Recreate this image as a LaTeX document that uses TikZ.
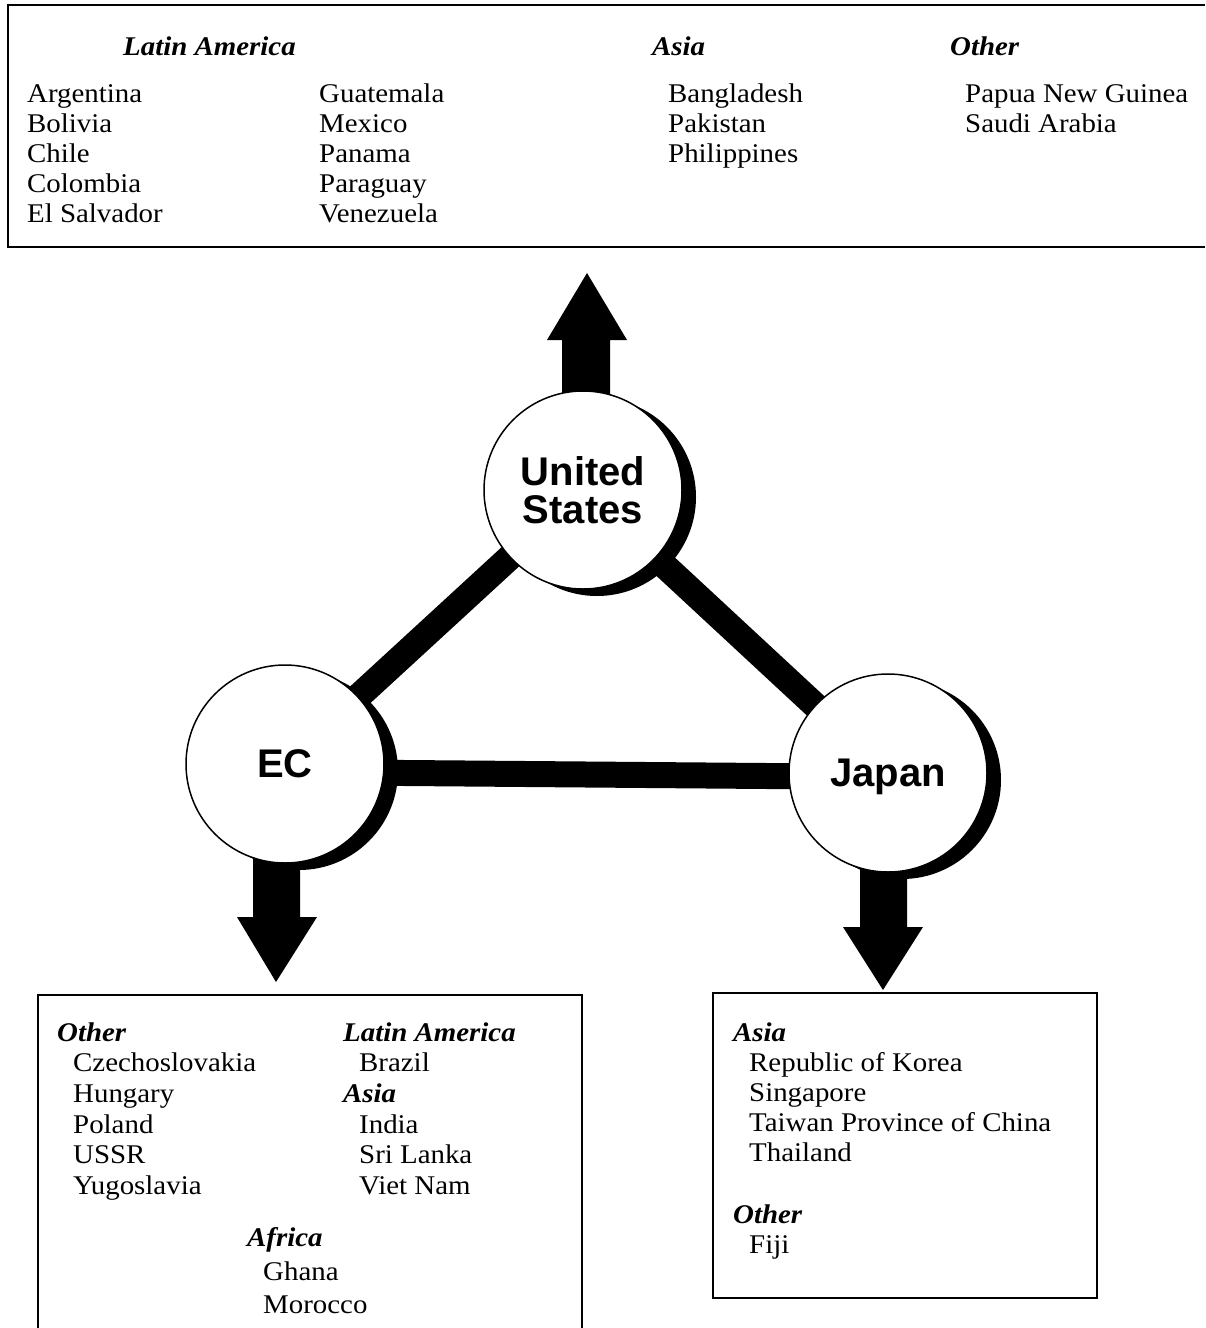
\documentclass[tikz,border=0pt]{standalone}
\usepackage{fontspec}
\setmainfont{Liberation Serif}
\newfontfamily\serifx[FakeStretch=1.07]{Liberation Serif}
\newfontfamily\sansx{Liberation Sans}
\usetikzlibrary{backgrounds,calc}
\begin{document}
\begin{tikzpicture}[x=1pt,y=-1pt,
  item/.style={anchor=base west, inner sep=0pt, font=\serifx\fontsize{27}{30}\selectfont},
  head/.style={anchor=base west, inner sep=0pt, font=\serifx\bfseries\itshape\fontsize{27}{30}\selectfont},
  country/.style={circle, draw, line width=1.5pt, fill=white, minimum size=198pt, inner sep=0pt,
    font=\sansx\bfseries\fontsize{40}{38}\selectfont},
  bar/.style={line width=26pt},
  frame/.style={line width=2.2pt},
]
\useasboundingbox (0,0) rectangle (1205,1328);

% ---- circles ----
\node[country, text depth=0pt] (EC) at (285,764) {EC};
\node[country, text depth=0pt] (JP) at (888,773) {Japan};
\node[country, align=center] (US) at (583,490) {United\\States};

\begin{pgfonlayer}{background}
  % connecting bars
  \draw[bar] (US.center) -- (EC.center);
  \draw[bar] (US.center) -- (JP.center);
  \draw[bar] ([yshift=-8pt]EC.center) -- ([yshift=-4pt]JP.center);
  % shadows
  \foreach \n in {US,EC,JP}
    \fill ([xshift=14pt,yshift=-7pt]\n.center) circle (99pt);
  % arrows
  \coordinate (usTip) at (587,273);
  \coordinate (ecTip) at (276,982);
  \coordinate (jpTip) at (883,990);
  \fill (usTip) -- ++(40,67) -- ++(-17,0) -- ++(0,150) -- ++(-48,0) -- ++(0,-150) -- ++(-15,0) -- cycle;
  \fill (ecTip) -- ++(41,-65) -- ++(-17,0) -- ++(0,-150) -- ++(-47,0) -- ++(0,150) -- ++(-16,0) -- cycle;
  \fill (jpTip) -- ++(40,-63) -- ++(-16,0) -- ++(0,-150) -- ++(-47,0) -- ++(0,150) -- ++(-17,0) -- cycle;
\end{pgfonlayer}

% ---- boxes ----
\draw[frame] (1205,5) -- (8,5) -- (8,247) -- (1205,247);
\draw[frame] (38,1328) -- (38,995) -- (582,995) -- (582,1328);
\draw[frame] (713,993) rectangle (1097,1298);

% ---- top box text ----
\node[head] (h1) at (123,55) {Latin America};
\node[head] (h2) at (652,55) {Asia};
\node[head] (h3) at (950,55) {Other};
\foreach \t [count=\i from 0] in {Argentina,Bolivia,Chile,Colombia,El Salvador}
  \node[item] (a\i) at (27,102.5+30*\i) {\t};
\foreach \t [count=\i from 0] in {Guatemala,Mexico,Panama,Paraguay,Venezuela}
  \node[item] (b\i) at (319,102.5+30*\i) {\t};
\foreach \t [count=\i from 0] in {Bangladesh,Pakistan,Philippines}
  \node[item] (c\i) at (668,102.5+30*\i) {\t};
\foreach \t [count=\i from 0] in {Papua New Guinea,Saudi Arabia}
  \node[item] (d\i) at (965,102.5+30*\i) {\t};

% ---- bottom-left box text ----
\node[head] (e0) at (57,1041) {Other};
\foreach \t [count=\i from 1] in {Czechoslovakia,Hungary,Poland,USSR,Yugoslavia}
  \node[item] (e\i) at (73,1041+30.7*\i) {\t};
\node[head] (f0) at (343,1041) {Latin America};
\node[item] (f1) at (359,1071.7) {Brazil};
\node[head] (f2) at (343,1102.4) {Asia};
\foreach \t [count=\i from 3] in {India,Sri Lanka,Viet Nam}
  \node[item] (f\i) at (359,1041+30.7*\i) {\t};
\node[head] (g0) at (247,1246) {Africa};
\node[item] (g1) at (263,1280) {Ghana};
\node[item] (g2) at (263,1313) {Morocco};

% ---- bottom-right box text ----
\node[head] (k0) at (733,1041) {Asia};
\foreach \t [count=\i from 1] in {Republic of Korea,Singapore,Taiwan Province of China,Thailand}
  \node[item] (k\i) at (749,1041+30*\i) {\t};
\node[head] (m0) at (733,1223) {Other};
\node[item] (m1) at (749,1253) {Fiji};
\end{tikzpicture}
\end{document}
